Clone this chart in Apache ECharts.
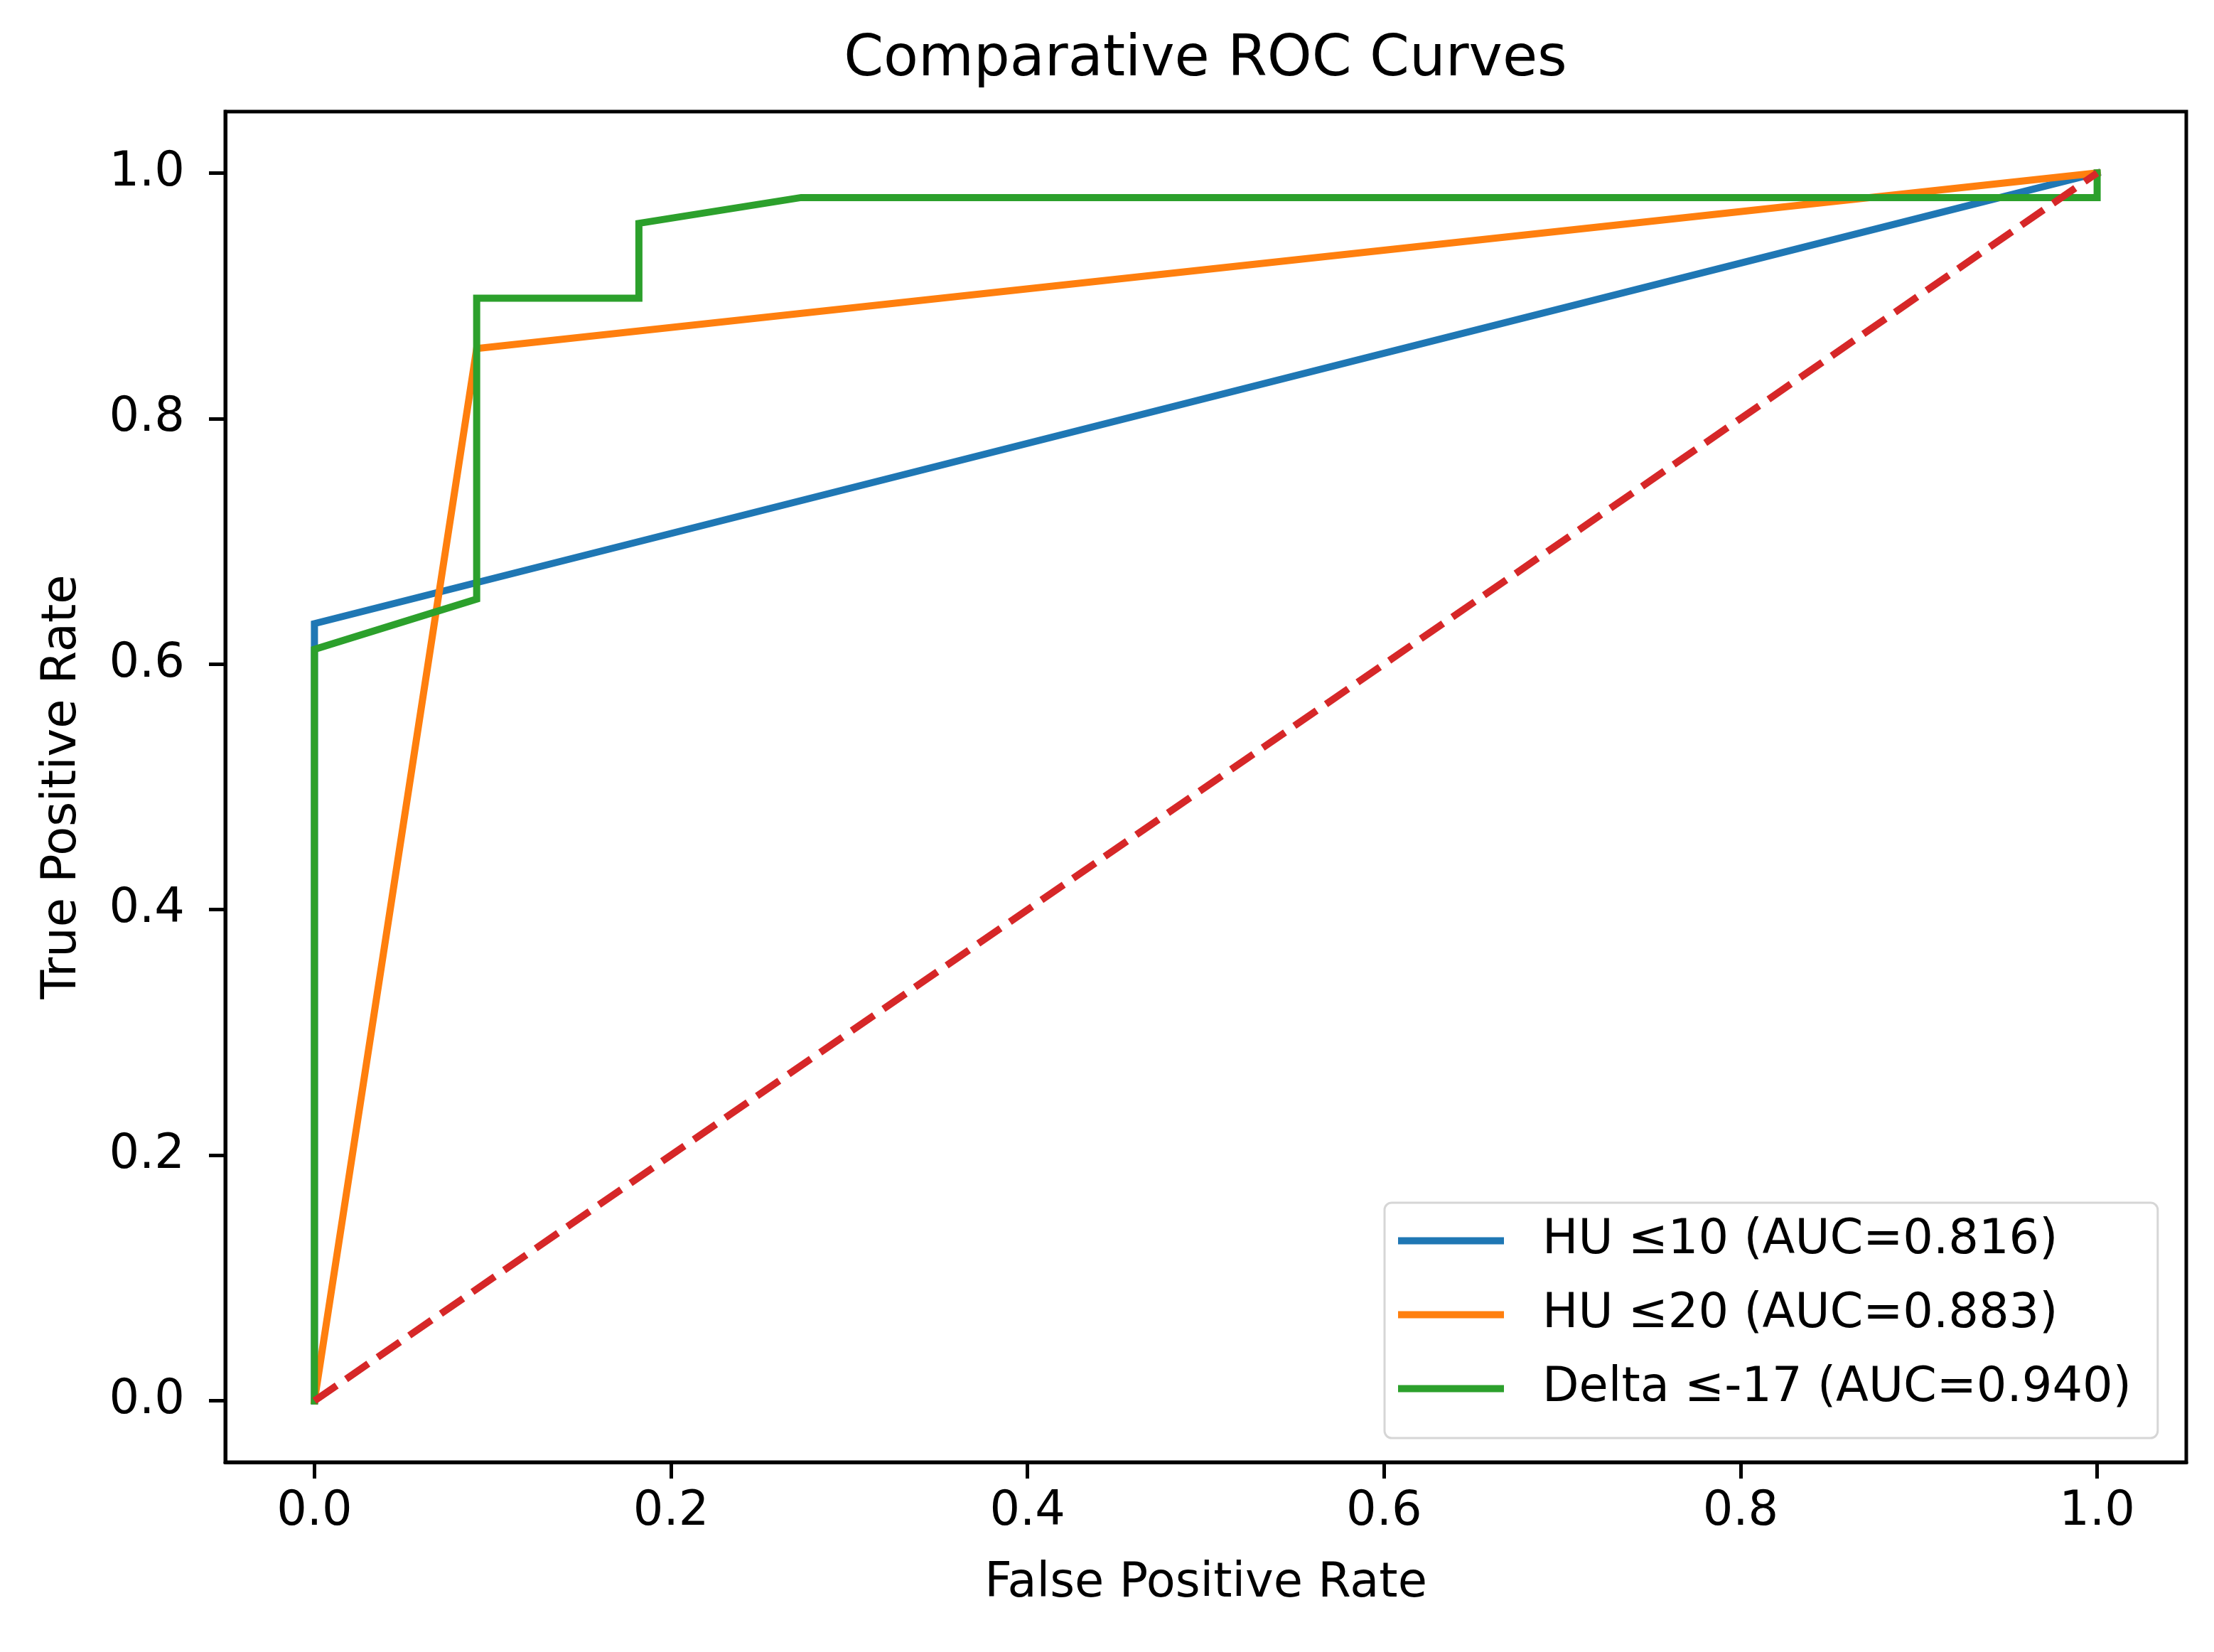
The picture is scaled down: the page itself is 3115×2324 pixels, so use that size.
<!DOCTYPE html>
<html>
<head>
<meta charset="utf-8">
<title>Comparative ROC Curves</title>
<script src="https://cdn.jsdelivr.net/npm/echarts@6/dist/echarts.min.js"></script>
<style>
    html, body { margin: 0; padding: 0; background: #fff; }
    #chart { width: 3115px; height: 2324px; }
</style>
</head>
<body>
<div id="chart"></div>
<script>
// 数据 (FPR, TPR)
var seriesNames = ['HU ≤10 (AUC=0.816)', 'HU ≤20 (AUC=0.883)', 'Delta ≤-17 (AUC=0.940)'];
var hu10Fpr = [0, 0, 1];
var hu10Tpr = [0, 0.633, 1];
var hu20Fpr = [0, 0.091, 1];
var hu20Tpr = [0, 0.857, 1];
var deltaFpr = [0, 0, 0.091, 0.091, 0.182, 0.182, 0.273, 1, 1];
var deltaTpr = [0, 0.612, 0.653, 0.898, 0.898, 0.959, 0.98, 0.98, 1];
var chanceFpr = [0, 1];
var chanceTpr = [0, 1];
var tickValues = [0, 0.2, 0.4, 0.6, 0.8, 1.0];

var colors = ['#1f77b4', '#ff7f0e', '#2ca02c', '#d62728'];
var font = 'DejaVu Sans';

function pairs(xs, ys) {
    return xs.map(function (x, i) { return [x, ys[i]]; });
}

function rocLine(name, xs, ys, color) {
    return {
        name: name,
        type: 'line',
        data: pairs(xs, ys),
        symbol: 'none',
        lineStyle: { color: color, width: 10, cap: 'square', join: 'miter' },
        itemStyle: { color: color }
    };
}

function valueAxis(extra) {
    var axis = {
        type: 'value',
        min: -0.05,
        max: 1.05,
        // 轴线放在网格边上，刻度朝外
        axisLine: { show: true, onZero: false, lineStyle: { color: '#000', width: 5 } },
        splitLine: { show: false },
        axisTick: {
            show: true,
            length: 23,
            customValues: tickValues,
            lineStyle: { color: '#000', width: 5 }
        },
        axisLabel: {
            customValues: tickValues,
            color: '#000',
            fontSize: 67,
            fontFamily: font,
            formatter: function (v) { return v.toFixed(1); }
        },
        nameLocation: 'middle',
        nameTextStyle: { color: '#000', fontSize: 67, fontFamily: font }
    };
    for (var k in extra) {
        if (k === 'axisLabel') Object.assign(axis.axisLabel, extra[k]);
        else axis[k] = extra[k];
    }
    return axis;
}

var myChart = echarts.init(document.getElementById('chart'));

var option = {
    animation: false,
    backgroundColor: '#fff',
    title: {
        text: 'Comparative ROC Curves',
        left: 1696,
        top: 45,
        padding: 0,
        textAlign: 'center',
        textStyle: { color: '#000', fontSize: 80, fontWeight: 'normal', fontFamily: font }
    },
    grid: {
        left: 317,
        top: 157,
        right: 39,
        bottom: 267,
        show: true,
        borderColor: '#000',
        borderWidth: 5
    },
    legend: {
        data: seriesNames,
        orient: 'vertical',
        left: 1948,
        top: 1692,
        padding: [20, 37, 36, 19],
        itemGap: 37,
        itemWidth: 149,
        itemHeight: 10,
        icon: 'rect',
        backgroundColor: 'rgba(255,255,255,0.8)',
        borderColor: '#d6d6d6',
        borderWidth: 3,
        borderRadius: 10,
        textStyle: {
            color: '#000',
            fontSize: 67,
            lineHeight: 67,
            fontFamily: font,
            padding: [0, 0, 0, 49]
        }
    },
    xAxis: valueAxis({ name: 'False Positive Rate', nameGap: 138, axisLabel: { margin: 37 } }),
    yAxis: valueAxis({ name: 'True Positive Rate', nameGap: 195, nameRotate: 90, axisLabel: { margin: 57 } }),
    series: [
        rocLine(seriesNames[0], hu10Fpr, hu10Tpr, colors[0]),
        rocLine(seriesNames[1], hu20Fpr, hu20Tpr, colors[1]),
        rocLine(seriesNames[2], deltaFpr, deltaTpr, colors[2]),
        {
            // 对角线 (随机分类)
            type: 'line',
            data: pairs(chanceFpr, chanceTpr),
            symbol: 'none',
            lineStyle: { color: colors[3], width: 10, type: [38, 16] }
        }
    ]
};

myChart.setOption(option);
</script>
</body>
</html>
